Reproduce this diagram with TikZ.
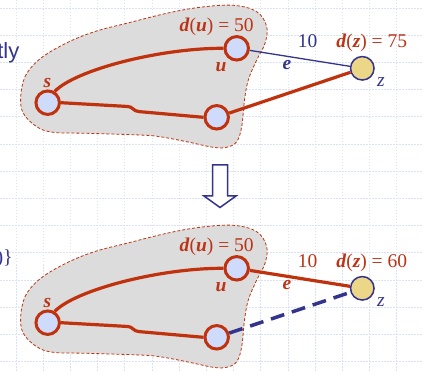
\documentclass[tikz,border=0pt]{standalone}
\usepackage{fontspec}
\setmainfont{Liberation Serif}
\newfontfamily\slidesans{Liberation Sans}

\definecolor{edgered}{RGB}{192,50,14}
\definecolor{textred}{RGB}{188,52,22}
\definecolor{slideblue}{RGB}{52,52,140}
\definecolor{nodeblue}{RGB}{207,219,250}
\definecolor{nodegold}{RGB}{236,214,135}
\definecolor{cloudgrey}{RGB}{220,220,220}
\definecolor{gridblue}{RGB}{218,226,248}

\newcommand{\bi}[1]{\textbf{\textit{#1}}}

\begin{document}
\begin{tikzpicture}[
            x=1pt, y=-1pt,
            vertex/.style={
                circle,
                draw=edgered,
                line width=3pt,
                fill=nodeblue,
                minimum size=23.5pt,
                inner sep=0pt
            },
            target/.style={
                circle,
                draw=slideblue,
                line width=1.5pt,
                fill=nodegold,
                minimum size=23.5pt,
                inner sep=0pt
            },
            lbl/.style={font=\fontsize{19.5}{22}\selectfont, inner sep=0pt},
            redline/.style={draw=edgered, line width=3.2pt},
            blueline/.style={draw=slideblue, line width=1.3pt},
            bluedash/.style={draw=slideblue, line width=3.5pt, dash pattern=on 14pt off 8pt},
            cloud/.style={fill=cloudgrey, draw=edgered, line width=0.8pt, dash pattern=on 3pt off 2pt},
            gridline/.style={draw=gridblue, line width=0.8pt, dash pattern=on 1.5pt off 1.5pt}
        ]

            \fill[white] (0,0) rectangle (423,371);
            \clip (0,0) rectangle (423,371);

            % slide background
            \foreach \gx in {0,...,15}
                \draw[gridline] ({16+27.2*\gx},0) -- ({16+27.2*\gx},371);
            \foreach \gy in {0,...,13}
                \draw[gridline] (0,{8+27.2*\gy}) -- (423,{8+27.2*\gy});

            \node[lbl, anchor=base east, text=slideblue, font=\slidesans\fontsize{22}{26}\selectfont] (txt1) at (19.5,58.3) {tly};
            \node[lbl, anchor=east, text=slideblue, font=\fontsize{20}{24}\selectfont] (txt2) at (13,259) {)\}};

            % the two steps
            \foreach \i/\dy/\dz in {1/0/75, 2/220/60} {
                \begin{scope}[yshift=-\dy pt]
                    \path[cloud] plot[smooth cycle, tension=0.6] coordinates {
                        (20.7,96.7) (25,76.7) (36.7,61.7) (53.3,50) (76.7,38.3)
                        (100,30) (126.7,23.3) (166.7,13.3) (200,7.3) (233.3,5.3)
                        (256.7,11.7) (266.7,26.7) (265,43.3) (256.7,60) (248.3,80)
                        (244.5,100) (241.7,126.7) (236.7,141.7) (226.7,147.3)
                        (213.3,147.3) (186.7,141.7) (160,136.7) (140,135)
                        (86.7,133.3) (53.3,132.3) (36.7,126.7) (23.3,113.3)};

                    \node[vertex] (s\i) at (47.7,102.7) {};
                    \node[vertex] (u\i) at (236.7,48.3) {};
                    \node[vertex] (w\i) at (216.7,117.3) {};
                    \node[target] (z\i) at (362.3,68.3) {};

                    \draw[redline] (s\i.58) .. controls (75,70) and (160,48) .. (u\i.west);
                    \draw[redline] (s\i.east) -- (128,106.5)
                        .. controls (133,106.8) and (133,111.2) .. (139,111.6) -- (w\i.west);

                    \node[lbl, text=textred] (du\i) at (216.7,26.5) {\bi{d}(\bi{u}) = 50};
                    \node[lbl, text=textred] (dz\i) at (371.7,43.3) {\bi{d}(\bi{z}) = \dz};
                    \node[lbl, text=textred] (lu\i) at (221,67.5) {\bi{u}};
                    \node[lbl, text=textred] (ls\i) at (47.5,83.3) {\bi{s}};
                    \node[lbl, text=slideblue] (lz\i) at (381,82.5) {\textit{z}};
                \end{scope}
            }

            \draw[blueline] (u1) -- (z1);
            \draw[redline] (w1) -- (z1);
            \node[lbl, text=slideblue] (ten1) at (307.5,40.8) {10};
            \node[lbl, text=slideblue] (e1) at (287,65.5) {\bi{e}};

            \draw[redline] (u2) -- (z2);
            \draw[bluedash] (w2) -- (z2);
            \node[lbl, text=textred] (ten2) at (307.5,260.8) {10};
            \node[lbl, text=textred] (e2) at (287,285.5) {\bi{e}};

            % step arrow
            \draw[slideblue, line width=1.5pt, fill=white, line join=miter]
                (212.5,165) -- (212.5,196) -- (204,196) -- (220,207.5)
                -- (236,196) -- (227.5,196) -- (227.5,165) -- cycle;

        \end{tikzpicture}
\end{document}
